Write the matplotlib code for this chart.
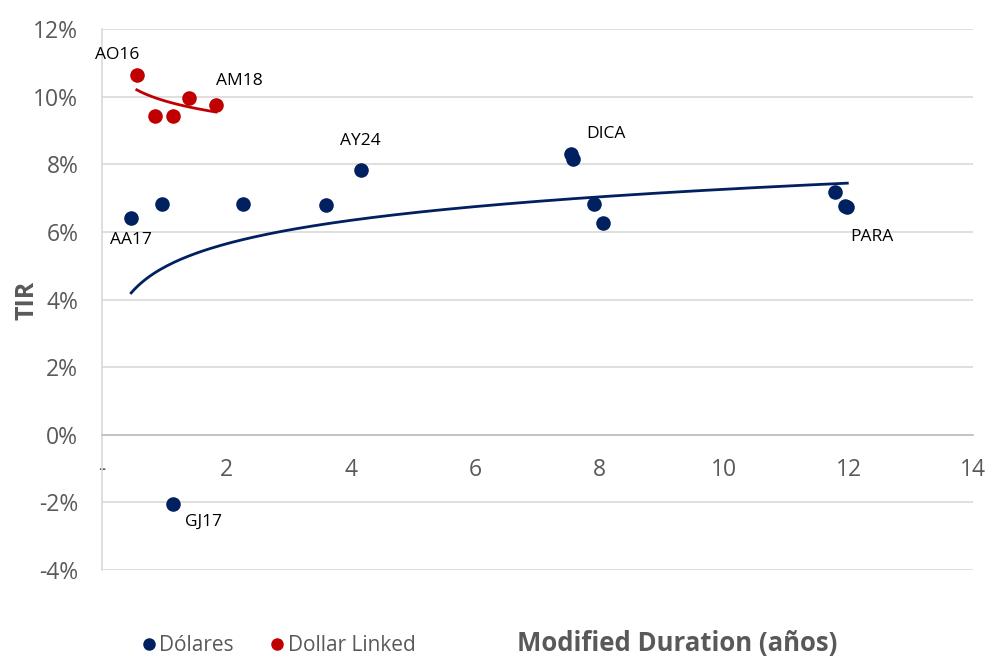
import numpy as np
import matplotlib
matplotlib.use("Agg")
import matplotlib.pyplot as plt
from matplotlib.lines import Line2D

plt.rcParams['font.family'] = ['Open Sans', 'DejaVu Sans']

# Bonos en dólares: duración modificada (años) y TIR (%)
usd_names = ["AA17", "", "", "", "AY24", "DICA", "", "", "", "", "", "PARA", "GJ17"]
usd_dur = [0.47, 0.96, 2.27, 3.60, 4.16, 7.54, 7.57, 7.91, 8.05, 11.78, 11.95, 11.98, 1.14]
usd_tir = [6.42, 6.83, 6.83, 6.80, 7.82, 8.31, 8.15, 6.84, 6.27, 7.17, 6.78, 6.74, -2.04]

# Bonos dollar linked
dl_names = ["AO16", "", "", "", "AM18"]
dl_dur = [0.56, 0.85, 1.14, 1.40, 1.83]
dl_tir = [10.65, 9.42, 9.42, 9.97, 9.76]

# Etiquetas del gráfico
x_ticks = [0, 2, 4, 6, 8, 10, 12, 14]
x_tick_labels = ["-", "2", "4", "6", "8", "10", "12", "14"]
y_ticks = [-4, -2, 0, 2, 4, 6, 8, 10, 12]

NAVY = "#002060"
RED = "#C00000"
GRID = "#D9D9D9"
TXT = "#595959"

fig = plt.figure(figsize=(9.87, 6.57), dpi=100)
ax = fig.add_axes([0.1033, 0.1324, 0.8825, 0.8234])


def log_trend(x, y, n=200):
    x = np.asarray(x, float)
    y = np.asarray(y, float)
    b, a = np.polyfit(np.log(x), y, 1)
    xs = np.linspace(x.min(), x.max(), n)
    return xs, a + b * np.log(xs)


# Líneas de tendencia logarítmicas
xs, ys = log_trend(usd_dur, usd_tir)
ax.plot(xs, ys, color=NAVY, lw=2.0, zorder=3)
xs, ys = log_trend(dl_dur, dl_tir)
ax.plot(xs, ys, color=RED, lw=2.0, zorder=3)

ax.scatter(usd_dur, usd_tir, s=110, color=NAVY, zorder=4, linewidths=0)
ax.scatter(dl_dur, dl_tir, s=110, color=RED, zorder=4, linewidths=0)

# Etiquetas de los bonos (desplazamiento en puntos)
label_offsets = {
    "AA17": (0, -16), "AY24": (0, 21), "DICA": (25, 14), "GJ17": (22, -13),
    "AO16": (-14, 14.5), "AM18": (17, 17), "PARA": (18, -22),
}
for names, xs_, ys_ in ((usd_names, usd_dur, usd_tir), (dl_names, dl_dur, dl_tir)):
    for n, x, y in zip(names, xs_, ys_):
        if n:
            ax.annotate(n, (x, y), xytext=label_offsets[n], textcoords="offset points",
                        ha="center", va="center", fontsize=12.5, color="black")

ax.set_xlim(0, 14)
ax.set_ylim(-4, 12)
ax.set_yticks(y_ticks)
ax.set_yticklabels([f"{v}%" for v in y_ticks])
ax.set_xticks(x_ticks)
ax.set_xticklabels(x_tick_labels)

ax.grid(axis="y", color=GRID, lw=1.2, zorder=0)
ax.set_axisbelow(True)
for s in ("top", "right"):
    ax.spines[s].set_visible(False)
ax.spines["left"].set_color(GRID)
ax.spines["left"].set_linewidth(1.2)
ax.spines["bottom"].set_position(("data", 0))
ax.spines["bottom"].set_color("#BFBFBF")
ax.spines["bottom"].set_linewidth(1.2)

ax.tick_params(axis="both", length=0, colors=TXT, labelsize=16.5)
ax.tick_params(axis="x", pad=17)
ax.tick_params(axis="y", pad=17)

fig.text(27 / 987, 1 - 300 / 657, "TIR", rotation=90, fontsize=18, fontweight="bold",
         color=TXT, ha="center", va="center")

fig.text(0.686, 0.0, "Modified Duration (años)", fontsize=18.5, fontweight="bold",
         color=TXT, ha="center", va="bottom")

handles = [
    Line2D([], [], marker="o", ls="", color=NAVY, markersize=8),
    Line2D([], [], marker="o", ls="", color=RED, markersize=8),
]
fig.legend(handles, ["Dólares", "Dollar Linked"], loc="lower left",
           bbox_to_anchor=(0.121, -0.027), ncol=2, frameon=False, fontsize=15,
           labelcolor=TXT, handletextpad=0.0, columnspacing=1.6, handlelength=1.0)

fig.savefig("out.png", dpi=100)
